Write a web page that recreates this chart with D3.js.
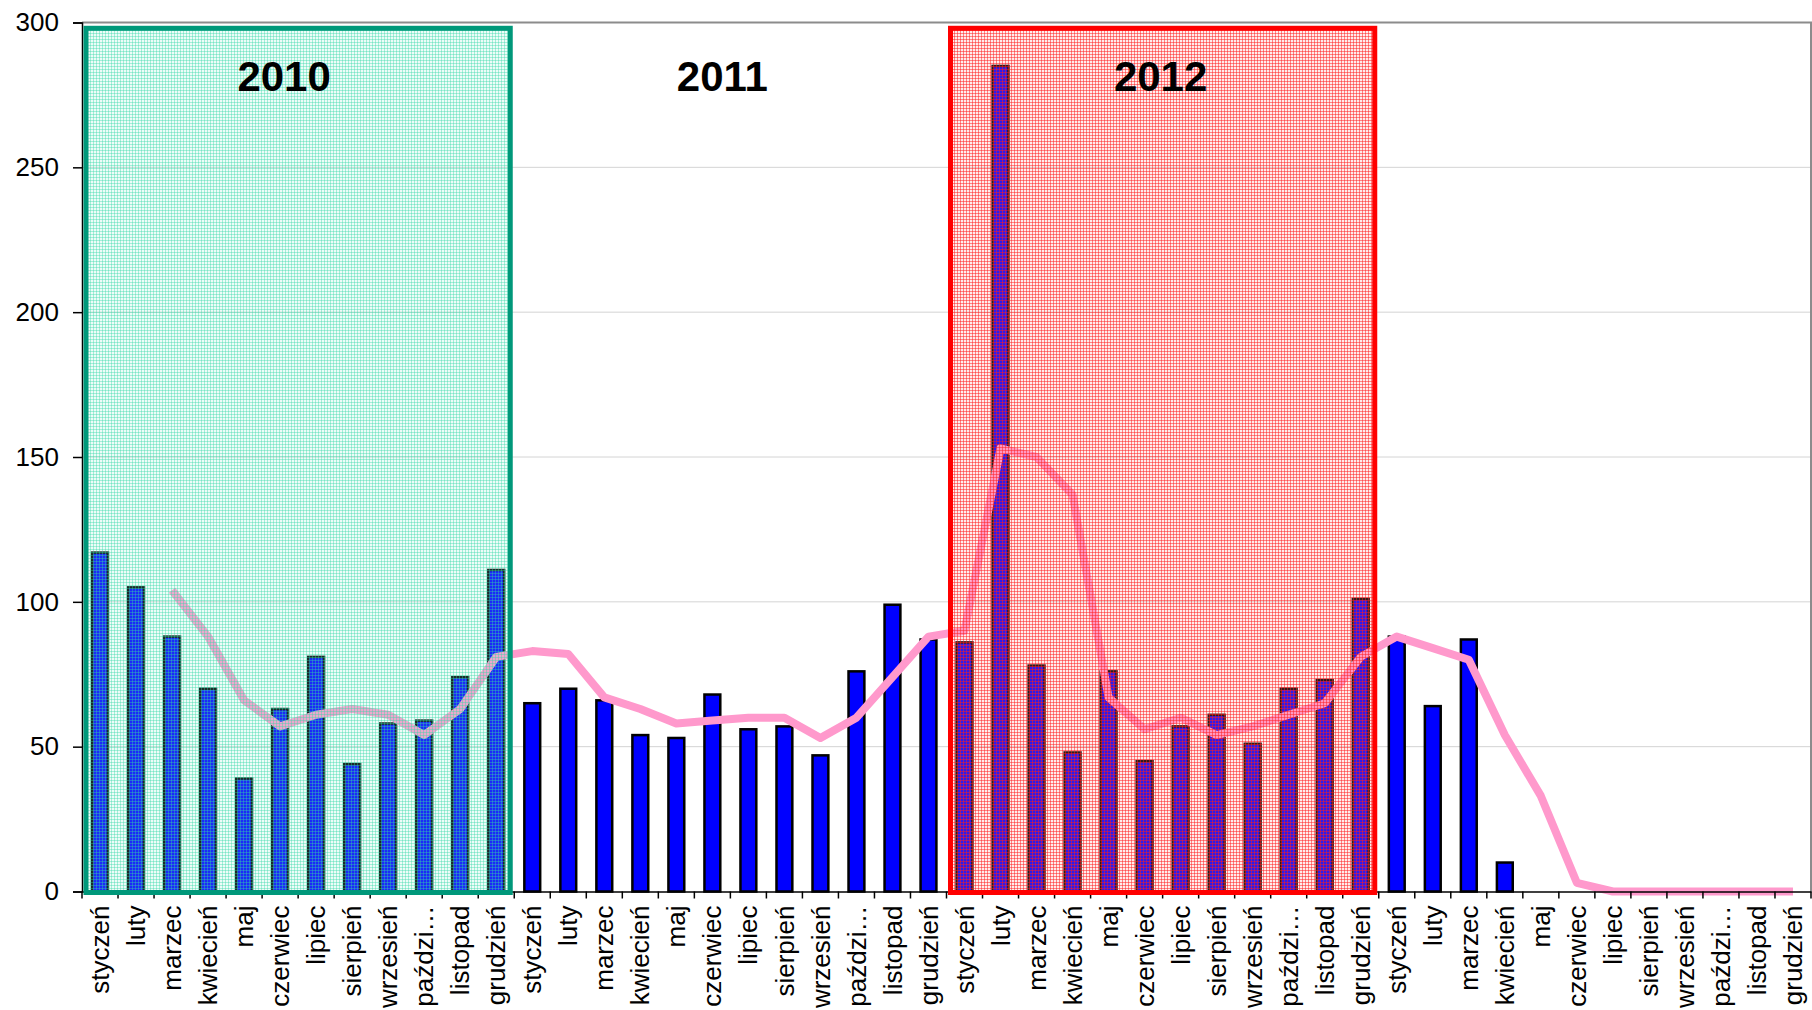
<!DOCTYPE html>
<html>
<head>
<meta charset="utf-8">
<script src="https://cdn.jsdelivr.net/npm/d3@7"></script>
<style>
  body { margin: 0; background: #fff; }
  svg { display: block; font-family: "Liberation Sans", Arial, sans-serif; }
</style>
</head>
<body>
<svg id="chart"></svg>
<script>
// Month labels (repeated for every year) and the years on the axis.
var months = ["styczeń", "luty", "marzec", "kwiecień", "maj", "czerwiec",
              "lipiec", "sierpień", "wrzesień", "paździ…", "listopad", "grudzień"];
var years = ["2010", "2011", "2012", "2013"];

// Monthly counts, 2010 - 2013.
var counts = [117, 105, 88, 70, 39, 63, 81, 44, 58, 59, 74, 111,
              65, 70, 66, 54, 53, 68, 56, 57, 47, 76, 99, 87,
              86, 285, 78, 48, 76, 45, 57, 61, 51, 70, 73, 101,
              88, 64, 87, 10, 0, 0, 0, 0, 0, 0, 0, 0];

// Trend line (starts with marzec 2010).
var trend = [null, null, 104, 88, 66, 57, 61, 63, 61, 54, 63, 81,
             83, 82, 67, 63, 58, 59, 60, 60, 53, 60, 74, 88,
             90, 153, 150, 137, 67, 56, 60, 54, 57, 61, 65, 81,
             88, 84, 80, 54, 33, 3, 0, 0, 0, 0, 0, 0];

// Y axis ticks.
var yTicks = [0, 50, 100, 150, 200, 250, 300];

// Highlighted years with their frame colours.
var highlights = [
    { year: 0, stroke: "#00987a", pattern: "gridGreen" },
    { year: 2, stroke: "#ff0000", pattern: "gridRed" }
];
var yearLabels = ["2010", "2011", "2012"];

var width = 1812, height = 1010;
var margin = { top: 22.5, right: 1, bottom: 118.5, left: 82 };

var svg = d3.select("#chart")
    .attr("width", width)
    .attr("height", height);

var idx = d3.range(counts.length);

var x = d3.scaleBand()
    .domain(idx)
    .range([margin.left, width - margin.right]);

var y = d3.scaleLinear()
    .domain([0, 300])
    .range([height - margin.bottom, margin.top]);

var bw = x.bandwidth();

// Patterns for the highlighted years.
var defs = svg.append("defs");
function makePattern(id, base, line) {
    var p = defs.append("pattern")
        .attr("id", id)
        .attr("patternUnits", "userSpaceOnUse")
        .attr("width", 3)
        .attr("height", 3);
    p.append("rect").attr("width", 3).attr("height", 3).attr("fill", base);
    p.append("rect").attr("width", 3).attr("height", 1).attr("fill", line);
    p.append("rect").attr("width", 1).attr("height", 3).attr("fill", line);
}
makePattern("gridGreen", "rgba(150,240,215,0.18)", "rgba(50,215,165,0.38)");
makePattern("gridRed", "rgba(255,150,150,0.18)", "rgba(255,30,30,0.5)");

// Horizontal gridlines.
svg.append("g")
    .selectAll("line")
    .data(yTicks.filter(function (d) { return d > 0 && d < 300; }))
    .enter()
    .append("line")
    .attr("x1", margin.left)
    .attr("x2", width - margin.right)
    .attr("y1", function (d) { return y(d); })
    .attr("y2", function (d) { return y(d); })
    .attr("stroke", "#d4d4d4")
    .attr("stroke-width", 1);

// Top and right border of the plot area.
svg.append("path")
    .attr("d", "M" + margin.left + "," + y(300) + "H" + (width - margin.right) + "V" + y(0))
    .attr("fill", "none")
    .attr("stroke", "#8c8c8c")
    .attr("stroke-width", 2);

// Bars.
var barW = bw * 0.44;
svg.append("g")
    .selectAll("rect")
    .data(idx.filter(function (i) { return counts[i] > 0; }))
    .enter()
    .append("rect")
    .attr("x", function (i) { return x(i) + (bw - barW) / 2; })
    .attr("y", function (i) { return y(counts[i]); })
    .attr("width", barW)
    .attr("height", function (i) { return y(0) - y(counts[i]); })
    .attr("fill", "#0000ff")
    .attr("stroke", "#000")
    .attr("stroke-width", 2.5);

// Trend line.
var line = d3.line()
    .defined(function (i) { return trend[i] !== null; })
    .x(function (i) { return x(i) + bw / 2; })
    .y(function (i) { return y(trend[i]); });

svg.append("path")
    .datum(idx)
    .attr("d", line)
    .attr("fill", "none")
    .attr("stroke", "#ff99cc")
    .attr("stroke-width", 8)
    .attr("stroke-linejoin", "round");

// Y axis.
var yAxis = svg.append("g")
    .attr("transform", "translate(" + margin.left + ",0)")
    .call(d3.axisLeft(y).tickValues(yTicks).tickSize(9).tickPadding(14));
yAxis.select(".domain").attr("stroke", "#000").attr("stroke-width", 1.5);
yAxis.selectAll(".tick line").attr("stroke", "#000").attr("stroke-width", 1.5);
yAxis.selectAll("text").attr("font-size", 26).attr("fill", "#000")
    .attr("font-family", "'Liberation Sans', Arial, sans-serif");

// X axis: labels in the middle of each month.
var xAxis = svg.append("g")
    .attr("transform", "translate(0," + y(0) + ")")
    .call(d3.axisBottom(x).tickSize(0).tickFormat(function (i) { return months[i % 12]; }));
xAxis.select(".domain").attr("stroke", "#000").attr("stroke-width", 1.5);
xAxis.selectAll("text")
    .attr("font-size", 26)
    .attr("fill", "#000")
    .attr("font-family", "'Liberation Sans', Arial, sans-serif")
    .attr("text-anchor", "end")
    .attr("transform", "rotate(-90)")
    .attr("x", -14)
    .attr("y", 0)
    .attr("dy", "0.35em");

// Tick marks between months.
xAxis.append("g")
    .selectAll("line")
    .data(d3.range(counts.length + 1))
    .enter()
    .append("line")
    .attr("x1", function (i) { return margin.left + i * bw; })
    .attr("x2", function (i) { return margin.left + i * bw; })
    .attr("y1", 0)
    .attr("y2", 7)
    .attr("stroke", "#000")
    .attr("stroke-width", 1.5);

// Highlight frames over 2010 and 2012.
svg.append("g")
    .selectAll("rect")
    .data(highlights)
    .enter()
    .append("rect")
    .attr("x", function (d) { return x(d.year * 12) + 4; })
    .attr("y", y(298))
    .attr("width", bw * 12 - 8)
    .attr("height", y(0) - y(298) + 1)
    .attr("fill", function (d) { return "url(#" + d.pattern + ")"; })
    .attr("stroke", function (d) { return d.stroke; })
    .attr("stroke-width", 5);

// Year captions.
svg.append("g")
    .selectAll("text")
    .data(yearLabels)
    .enter()
    .append("text")
    .attr("x", function (d, i) { return x(i * 12) + bw * 6 - 14 + i * 6; })
    .attr("y", 91)
    .attr("text-anchor", "middle")
    .attr("font-size", 42)
    .attr("font-weight", "bold")
    .attr("fill", "#000")
    .text(function (d) { return d; });
</script>
</body>
</html>
